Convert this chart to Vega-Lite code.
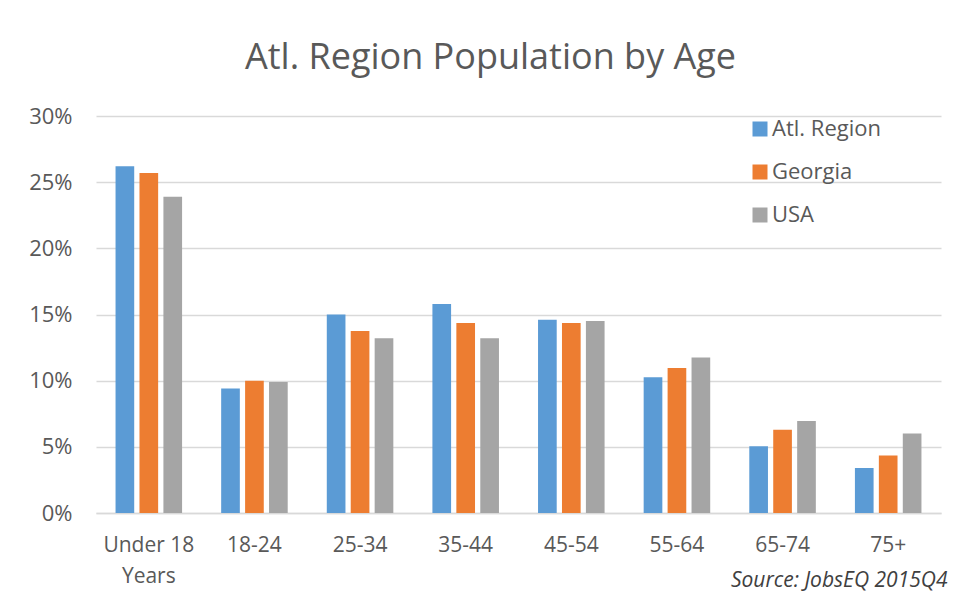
{
  "$schema": "https://vega.github.io/schema/vega-lite/v6.json",
  "autosize": {"type": "none"},
  "width": 845,
  "height": 397,
  "padding": {"left": 96, "top": 116, "right": 15, "bottom": 91},
  "background": "white",
  "config": {
    "font": "Open Sans",
    "view": {"stroke": null}
  },
  "title": {
    "text": "Atl. Region Population by Age",
    "fontSize": 36,
    "font": "Open Sans",
    "fontWeight": "normal",
    "color": "#595959",
    "anchor": "middle",
    "dx": -28,
    "offset": 28
  },
  "data": {
    "values": [
      {"age": "Under 18 Years", "series": "Atl. Region", "value": 0.262},
      {"age": "Under 18 Years", "series": "Georgia", "value": 0.257},
      {"age": "Under 18 Years", "series": "USA", "value": 0.239},
      {"age": "18-24", "series": "Atl. Region", "value": 0.094},
      {"age": "18-24", "series": "Georgia", "value": 0.100},
      {"age": "18-24", "series": "USA", "value": 0.099},
      {"age": "25-34", "series": "Atl. Region", "value": 0.150},
      {"age": "25-34", "series": "Georgia", "value": 0.1375},
      {"age": "25-34", "series": "USA", "value": 0.132},
      {"age": "35-44", "series": "Atl. Region", "value": 0.158},
      {"age": "35-44", "series": "Georgia", "value": 0.1435},
      {"age": "35-44", "series": "USA", "value": 0.132},
      {"age": "45-54", "series": "Atl. Region", "value": 0.146},
      {"age": "45-54", "series": "Georgia", "value": 0.1435},
      {"age": "45-54", "series": "USA", "value": 0.145},
      {"age": "55-64", "series": "Atl. Region", "value": 0.1025},
      {"age": "55-64", "series": "Georgia", "value": 0.1095},
      {"age": "55-64", "series": "USA", "value": 0.1175},
      {"age": "65-74", "series": "Atl. Region", "value": 0.0505},
      {"age": "65-74", "series": "Georgia", "value": 0.063},
      {"age": "65-74", "series": "USA", "value": 0.0695},
      {"age": "75+", "series": "Atl. Region", "value": 0.034},
      {"age": "75+", "series": "Georgia", "value": 0.0435},
      {"age": "75+", "series": "USA", "value": 0.060}
    ]
  },
  "mark": {"type": "bar"},
  "encoding": {
    "x": {
      "field": "age",
      "type": "nominal",
      "sort": null,
      "scale": {"paddingInner": 0.37, "paddingOuter": 0.185},
      "axis": {
        "title": "Source: JobsEQ 2015Q4",
        "titleAnchor": "end",
        "titleAlign": "right",
        "titleFontStyle": "italic",
        "titleFontWeight": "normal",
        "titleFontSize": 21,
        "titleColor": "#404040",
        "titlePadding": -17,
        "titleX": 851,
        "labelAngle": 0,
        "labelFontSize": 21,
        "labelColor": "#595959",
        "labelPadding": 21,
        "labelLineHeight": 31,
        "labelExpr": "datum.label == 'Under 18 Years' ? ['Under 18', 'Years'] : datum.label",
        "ticks": false,
        "domainColor": "#D9D9D9",
        "domainWidth": 1.5
      }
    },
    "xOffset": {
      "field": "series",
      "type": "nominal",
      "scale": {"paddingInner": 0.22}
    },
    "y": {
      "field": "value",
      "type": "quantitative",
      "scale": {"domain": [0, 0.3]},
      "axis": {
        "title": null,
        "values": [0, 0.05, 0.1, 0.15, 0.2, 0.25, 0.3],
        "format": ".0%",
        "labelFontSize": 22,
        "labelColor": "#595959",
        "labelPadding": 24,
        "ticks": false,
        "domain": false,
        "gridColor": "#D9D9D9",
        "gridWidth": 1.5
      }
    },
    "color": {
      "field": "series",
      "type": "nominal",
      "scale": {
        "domain": ["Atl. Region", "Georgia", "USA"],
        "range": ["#5B9BD5", "#ED7D31", "#A5A5A5"]
      },
      "legend": {
        "title": null,
        "orient": "none",
        "legendX": 653,
        "legendY": 2,
        "symbolType": "square",
        "symbolSize": 225,
        "symbolStrokeWidth": 0,
        "labelFontSize": 22,
        "labelColor": "#595959",
        "labelOffset": 1,
        "rowPadding": 21
      }
    }
  }
}
